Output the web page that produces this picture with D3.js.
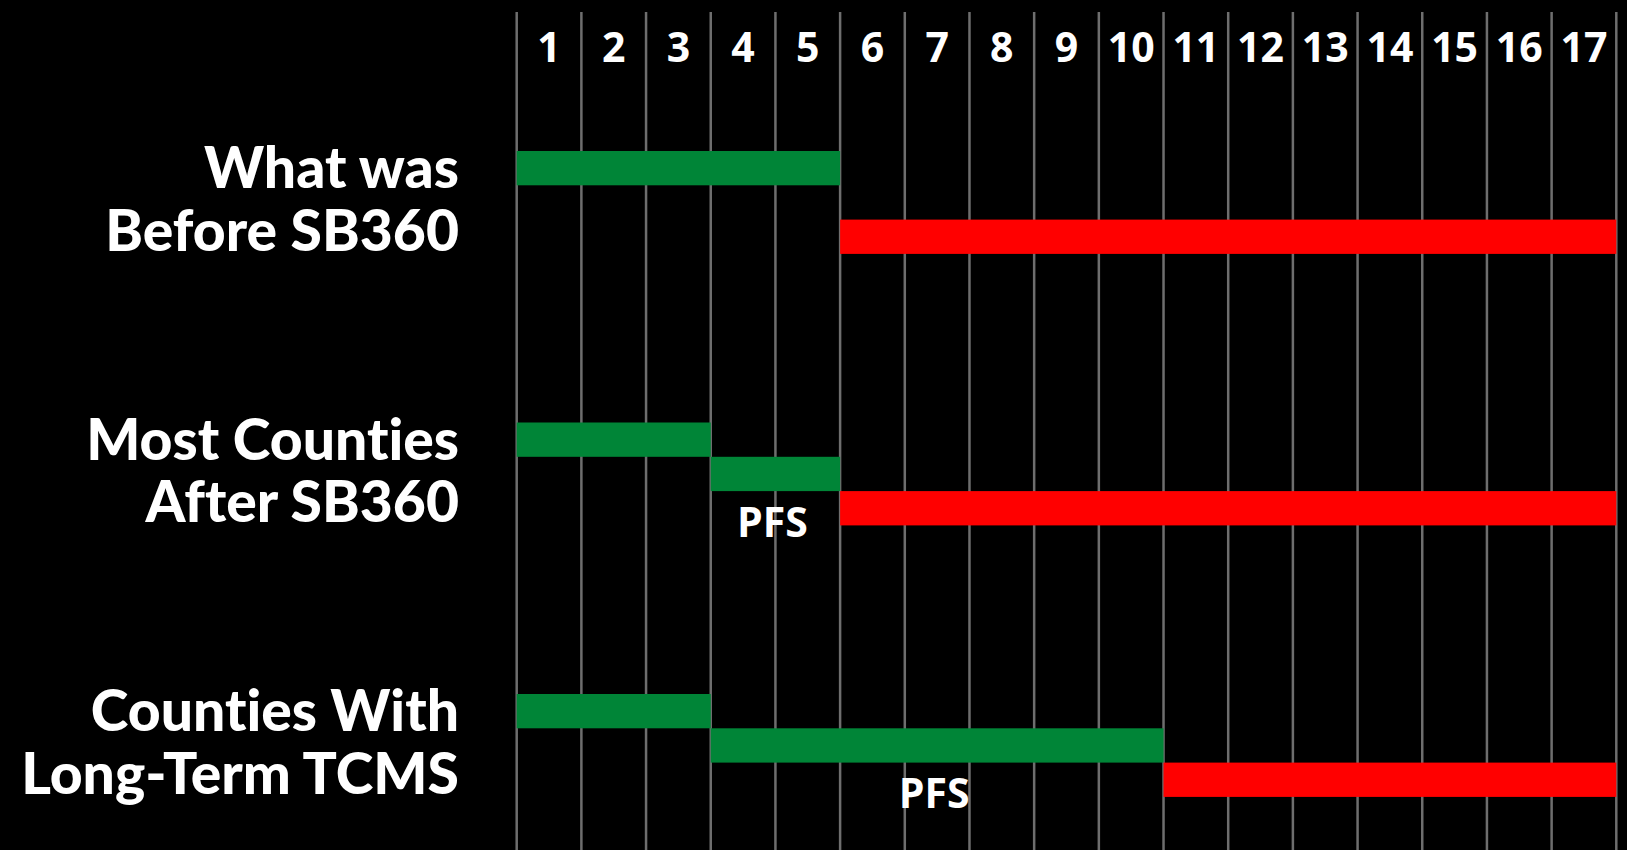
<!DOCTYPE html>
<html lang="en">
<head>
    <meta charset="UTF-8">
    <title>SB360 Timeline</title>
    <script src="https://d3js.org/d3.v7.min.js"></script>
    <style>
        html, body {
            margin: 0;
            padding: 0;
            background-color: #000;
            overflow: hidden;
        }
        svg {
            display: block;
            background-color: #000;
        }
        text {
            font-family: "Open Sans", "Noto Sans", sans-serif;
            font-weight: 700;
            fill: #fff;
        }
        .grid line {
            stroke: #6e6e6e;
            stroke-width: 2.5px;
        }
        .row-label {
            font-family: Lato, "Open Sans", sans-serif;
            font-weight: 900;
            font-size: 57px;
            text-anchor: end;
            font-variant-ligatures: none;
            font-feature-settings: "liga" 0, "clig" 0;
        }
        .col-label {
            font-size: 41px;
            text-anchor: middle;
        }
        .pfs {
            font-size: 41px;
            text-anchor: middle;
        }
    </style>
</head>
<body>
    <div id="chart"></div>
    <script>
        // column labels along the top
        const columns = ["1", "2", "3", "4", "5", "6", "7", "8", "9", "10", "11", "12", "13", "14", "15", "16", "17"];

        // one entry per row, two text lines each
        const rowLabels = [
            ["What was", "Before SB360"],
            ["Most Counties", "After SB360"],
            ["Counties With", "Long-Term TCMS"]
        ];

        // green segments: row, lane, start, end (in columns)
        const greenRow   = [0, 1, 1, 2, 2];
        const greenLane  = [0, 0, 1, 0, 1];
        const greenStart = [0, 0, 3, 0, 3];
        const greenEnd   = [5, 3, 5, 3, 10];

        // red segments
        const redRow   = [0, 1, 2];
        const redLane  = [2, 2, 2];
        const redStart = [5, 5, 10];
        const redEnd   = [17, 17, 17];

        // "PFS" notes under the second green segment
        const pfsRow   = [1, 2];
        const pfsStart = [3, 3];
        const pfsEnd   = [5, 10];

        const W = 1627, H = 850;

        const svg = d3.select("#chart")
            .append("svg")
            .attr("width", W)
            .attr("height", H);

        const x = d3.scaleLinear()
            .domain([0, columns.length])
            .range([516.7, 1616.3]);

        const row = d3.scaleBand()
            .domain(d3.range(rowLabels.length))
            .range([151, 151 + 271.5 * 3])
            .paddingInner(0);

        const laneH = 34.3;
        const lane = d3.scaleLinear().domain([0, 1]).range([0, laneH]);

        // vertical grid
        svg.append("g")
            .attr("class", "grid")
            .selectAll("line")
            .data(d3.range(columns.length + 1))
            .join("line")
            .attr("x1", d => x(d))
            .attr("x2", d => x(d))
            .attr("y1", 12)
            .attr("y2", H);

        // column numbers
        svg.append("g")
            .selectAll("text")
            .data(columns)
            .join("text")
            .attr("class", "col-label")
            .attr("x", (d, i) => x(i + 0.5))
            .attr("y", 62)
            .text(d => d);

        // row labels, two lines in one text element
        const labels = svg.append("g")
            .selectAll("text")
            .data(rowLabels)
            .join("text")
            .attr("class", "row-label")
            .attr("y", (d, i) => row(i) + 37);

        labels.selectAll("tspan")
            .data(d => d)
            .join("tspan")
            .attr("x", 459)
            .attr("dy", (d, j) => j === 0 ? 0 : 62.5)
            .text(d => d);

        const green = greenRow.map((r, i) => ({ r, l: greenLane[i], s: greenStart[i], e: greenEnd[i] }));
        const red = redRow.map((r, i) => ({ r, l: redLane[i], s: redStart[i], e: redEnd[i] }));

        svg.append("g")
            .selectAll("rect")
            .data(green)
            .join("rect")
            .attr("x", d => x(d.s))
            .attr("y", d => row(d.r) + lane(d.l))
            .attr("width", d => x(d.e) - x(d.s))
            .attr("height", laneH)
            .attr("fill", "#008537");

        svg.append("g")
            .selectAll("rect")
            .data(red)
            .join("rect")
            .attr("x", d => x(d.s))
            .attr("y", d => row(d.r) + lane(d.l))
            .attr("width", d => x(d.e) - x(d.s))
            .attr("height", laneH)
            .attr("fill", "#ff0000");

        svg.append("g")
            .selectAll("text")
            .data(pfsRow)
            .join("text")
            .attr("class", "pfs")
            .attr("x", (d, i) => x((pfsStart[i] + pfsEnd[i]) / 2) - 3)
            .attr("y", d => row(d) + 114)
            .text("PFS");
    </script>
</body>
</html>
